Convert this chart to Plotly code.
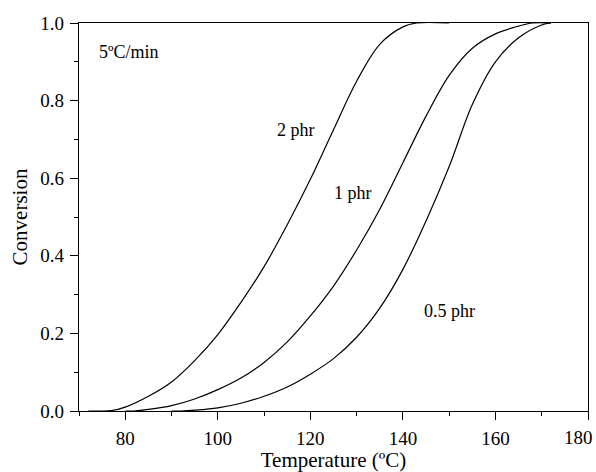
import plotly.graph_objects as go

# Data
x_2phr = [72, 74, 77, 80, 85, 90, 95, 100, 105, 110, 115, 120, 125, 130, 135, 140, 143, 150]
y_2phr = [0, 0, 0.001, 0.01, 0.038, 0.075, 0.13, 0.197, 0.28, 0.372, 0.48, 0.597, 0.725, 0.85, 0.945, 0.99, 1.0, 1.0]

x_1phr = [80, 82, 85, 90, 95, 100, 105, 110, 115, 120, 125, 130, 135, 140, 145, 150, 155, 160, 165, 168, 172]
y_1phr = [0, 0, 0.004, 0.014, 0.031, 0.055, 0.085, 0.125, 0.178, 0.245, 0.322, 0.415, 0.52, 0.64, 0.76, 0.865, 0.935, 0.972, 0.992, 1.0, 1.0]

x_05phr = [90, 92, 95, 100, 105, 110, 115, 120, 125, 130, 135, 140, 145, 150, 155, 160, 165, 170, 172]
y_05phr = [0, 0, 0.002, 0.008, 0.02, 0.038, 0.062, 0.095, 0.135, 0.19, 0.265, 0.365, 0.49, 0.63, 0.79, 0.9, 0.962, 0.995, 1.0]

x_ticks = [80, 100, 120, 140, 160, 180]
x_ticklabels = ["80", "100", "120", "140", "160", ""]  # 180 drawn separately so it fits the page edge
last_x_label = "180"
y_ticks = [0.0, 0.2, 0.4, 0.6, 0.8, 1.0]
y_ticklabels = ["0.0", "0.2", "0.4", "0.6", "0.8", "1.0"]

labels = [("2 phr", 116.9, 0.723), ("1 phr", 129.2, 0.563), ("0.5 phr", 150.0, 0.259)]

FONT = "Liberation Serif"

fig = go.Figure()
for xs, ys in [(x_2phr, y_2phr), (x_1phr, y_1phr), (x_05phr, y_05phr)]:
    fig.add_trace(go.Scatter(x=xs, y=ys, mode="lines",
                             line=dict(color="black", width=1.2, shape="spline", smoothing=1.0),
                             showlegend=False, hoverinfo="skip"))

for text, xx, yy in labels:
    fig.add_annotation(x=xx, y=yy, text=text, showarrow=False,
                       font=dict(family=FONT, size=18, color="black"))
fig.add_annotation(x=73.8, y=0.925, text="5ºC/min", showarrow=False, xanchor="left",
                   font=dict(family=FONT, size=18, color="black"))
fig.add_annotation(x=x_ticks[-1], xref="x", y=0, yref="paper", text=last_x_label,
                   showarrow=False, xanchor="right", yanchor="middle", xshift=7, yshift=-26,
                   font=dict(family=FONT, size=19, color="black"))

axis_common = dict(showline=True, linecolor="black", linewidth=1.2, mirror=True,
                   ticks="outside", ticklen=8, tickwidth=1.2, tickcolor="black",
                   showgrid=False, zeroline=False,
                   tickfont=dict(family=FONT, size=19, color="black"))

fig.update_xaxes(range=[70, 180], tickvals=x_ticks, ticktext=x_ticklabels,
                 minor=dict(ticks="outside", ticklen=4, tickwidth=1.2, tickcolor="black",
                            tickvals=[70, 90, 110, 130, 150, 170], showgrid=False),
                 title=dict(text="Temperature (ºC)", font=dict(family=FONT, size=21, color="black"),
                            standoff=6),
                 ticklabelstandoff=2,
                 **axis_common)
fig.update_yaxes(range=[0, 1], tickvals=y_ticks, ticktext=y_ticklabels,
                 minor=dict(ticks="outside", ticklen=4, tickwidth=1.2, tickcolor="black",
                            tickvals=[0.1, 0.3, 0.5, 0.7, 0.9], showgrid=False),
                 title=dict(text="Conversion", font=dict(family=FONT, size=21, color="black"),
                            standoff=6),
                 ticklabelstandoff=2,
                 **axis_common)

fig.update_layout(width=596, height=472, margin=dict(l=79, r=8, t=23, b=61, autoexpand=False),
                  paper_bgcolor="white", plot_bgcolor="white")

fig.write_html("out.html")
